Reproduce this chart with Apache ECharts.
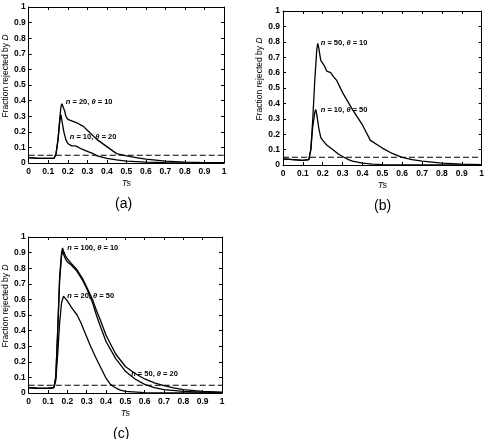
<!DOCTYPE html>
<html>
<head>
<meta charset="utf-8">
<script src="https://cdn.jsdelivr.net/npm/echarts@6/dist/echarts.min.js"></script>
<style>
  html, body { margin: 0; padding: 0; background: #fff; }
  #chart { width: 487px; height: 439px; }
</style>
</head>
<body>
<div id="chart"></div>
<script>
const alphaLevel = 0.05

// panel (a)
const aX1 = [0, 0.05, 0.1, 0.13, 0.14, 0.15, 0.16, 0.165, 0.17, 0.173, 0.178, 0.185, 0.19, 0.2, 0.22, 0.25, 0.28, 0.3, 0.35, 0.4, 0.45, 0.5, 0.55, 0.6, 0.7, 0.8, 0.9, 1]
const aY1 = [0.035, 0.03, 0.03, 0.03, 0.06, 0.15, 0.3, 0.36, 0.38, 0.37, 0.39, 0.33, 0.3, 0.28, 0.27, 0.255, 0.235, 0.21, 0.15, 0.105, 0.06, 0.045, 0.035, 0.025, 0.012, 0.006, 0.003, 0.002]
const aX2 = [0, 0.05, 0.1, 0.13, 0.14, 0.15, 0.16, 0.165, 0.17, 0.18, 0.19, 0.2, 0.21, 0.22, 0.24, 0.25, 0.27, 0.3, 0.33, 0.35, 0.4, 0.45, 0.5, 0.6, 0.7, 1]
const aY2 = [0.035, 0.03, 0.03, 0.03, 0.06, 0.15, 0.28, 0.31, 0.27, 0.2, 0.15, 0.125, 0.115, 0.11, 0.11, 0.1, 0.09, 0.075, 0.06, 0.045, 0.03, 0.02, 0.012, 0.005, 0.002, 0.001]

// panel (b)
const bX1 = [0, 0.05, 0.1, 0.13, 0.14, 0.15, 0.16, 0.17, 0.175, 0.18, 0.19, 0.2, 0.21, 0.22, 0.23, 0.24, 0.25, 0.27, 0.3, 0.35, 0.4, 0.44, 0.5, 0.55, 0.6, 0.65, 0.7, 0.8, 0.9, 1]
const bY1 = [0.04, 0.035, 0.03, 0.035, 0.1, 0.3, 0.55, 0.75, 0.79, 0.76, 0.68, 0.66, 0.64, 0.61, 0.6, 0.6, 0.58, 0.55, 0.47, 0.36, 0.26, 0.16, 0.11, 0.075, 0.05, 0.035, 0.025, 0.012, 0.006, 0.003]
const bX2 = [0, 0.05, 0.1, 0.13, 0.14, 0.15, 0.16, 0.165, 0.17, 0.18, 0.19, 0.2, 0.22, 0.25, 0.28, 0.3, 0.33, 0.35, 0.4, 0.45, 0.5, 0.6, 1]
const bY2 = [0.04, 0.035, 0.03, 0.035, 0.1, 0.25, 0.34, 0.36, 0.33, 0.24, 0.18, 0.16, 0.13, 0.1, 0.07, 0.055, 0.035, 0.025, 0.012, 0.006, 0.003, 0.001, 0]

// panel (c)
const cX1 = [0, 0.05, 0.1, 0.13, 0.14, 0.15, 0.16, 0.17, 0.175, 0.18, 0.19, 0.2, 0.22, 0.25, 0.28, 0.3, 0.33, 0.35, 0.37, 0.4, 0.45, 0.5, 0.55, 0.6, 0.65, 0.7, 0.75, 0.8, 0.9, 1]
const cY1 = [0.035, 0.03, 0.03, 0.035, 0.1, 0.4, 0.75, 0.9, 0.93, 0.91, 0.88, 0.86, 0.83, 0.79, 0.73, 0.68, 0.6, 0.53, 0.47, 0.37, 0.25, 0.17, 0.125, 0.09, 0.065, 0.048, 0.033, 0.022, 0.01, 0.005]
const cX2 = [0, 0.05, 0.1, 0.13, 0.14, 0.15, 0.16, 0.17, 0.175, 0.18, 0.19, 0.2, 0.22, 0.25, 0.28, 0.3, 0.33, 0.35, 0.37, 0.4, 0.45, 0.5, 0.55, 0.6, 0.65, 0.7, 0.8, 0.9, 1]
const cY2 = [0.035, 0.03, 0.03, 0.035, 0.1, 0.4, 0.72, 0.88, 0.91, 0.89, 0.86, 0.84, 0.82, 0.78, 0.72, 0.67, 0.58, 0.5, 0.43, 0.33, 0.22, 0.14, 0.09, 0.055, 0.035, 0.022, 0.01, 0.005, 0.002]
const cX3 = [0, 0.05, 0.1, 0.13, 0.14, 0.15, 0.16, 0.17, 0.18, 0.185, 0.2, 0.22, 0.25, 0.27, 0.29, 0.32, 0.35, 0.37, 0.4, 0.42, 0.44, 0.47, 0.5, 0.6, 1]
const cY3 = [0.035, 0.03, 0.03, 0.035, 0.08, 0.25, 0.45, 0.58, 0.62, 0.63, 0.59, 0.55, 0.5, 0.45, 0.39, 0.3, 0.22, 0.17, 0.095, 0.06, 0.04, 0.02, 0.01, 0.003, 0]

// curve annotations: [n, theta, Ts, fraction] where the text starts
const aNotes = [[20, 10, 0.19, 0.39], [10, 20, 0.21, 0.17]]
const bNotes = [[50, 10, 0.19, 0.79], [10, 50, 0.19, 0.36]]
const cNotes = [[100, 10, 0.2, 0.93], [20, 50, 0.2, 0.62], [50, 20, 0.53, 0.12]]

const panelNames = ['(a)', '(b)', '(c)']

const font = 'Liberation Sans, Arial, sans-serif'

function pairs (xs, ys) {
  return xs.map((x, i) => [x, ys[i]])
}

const grids = [
  { left: 24, top: 7, width: 200, height: 156 },
  { left: 283, top: 11, width: 200, height: 154 },
  { left: 22, top: 237, width: 200, height: 156 }
]

const xAxes = []
const yAxes = []
grids.forEach((g, i) => {
  const line = { show: true, onZero: false, lineStyle: { color: '#000', width: 1 } }
  const tick = { show: true, inside: true, length: 3, lineStyle: { color: '#000' } }
  xAxes.push({
    type: 'value', gridIndex: i, min: 0, max: 1, interval: 0.1,
    axisLine: line, axisTick: tick, splitLine: { show: false },
    axisLabel: { color: '#000', fontSize: 8.5, fontWeight: 'bold', fontFamily: font, margin: 4 },
    name: 'Ts', nameLocation: 'middle', nameGap: 16,
    nameTextStyle: { color: '#000', fontSize: 9, fontStyle: 'italic', fontFamily: font }
  })
  xAxes.push({
    type: 'value', gridIndex: i, min: 0, max: 1, interval: 0.1, position: 'top',
    axisLine: line, axisTick: tick, splitLine: { show: false }, axisLabel: { show: false }
  })
  yAxes.push({
    type: 'value', gridIndex: i, min: 0, max: 1, interval: 0.1,
    axisLine: line, axisTick: tick, splitLine: { show: false },
    axisLabel: { color: '#000', fontSize: 8.5, fontWeight: 'bold', fontFamily: font, margin: 3 },
    name: 'Fraction rejected by {i|D}', nameLocation: 'middle', nameGap: 18, nameRotate: 90,
    nameTextStyle: {
      color: '#000', fontSize: 8.5, fontFamily: font, padding: [0, 0, 0, 18],
      rich: { i: { fontStyle: 'italic', fontSize: 8.5, fontFamily: font, color: '#000' } }
    }
  })
  yAxes.push({
    type: 'value', gridIndex: i, min: 0, max: 1, interval: 0.1, position: 'right',
    axisLine: line, axisTick: tick, splitLine: { show: false }, axisLabel: { show: false }
  })
})

function notePoints (notes) {
  return notes.map(n => ({
    coord: [n[2], n[3]],
    value: n[0],
    label: {
      show: true, position: 'right', distance: 0,
      formatter: '{i|n} = ' + n[0] + ', {i|θ} = ' + n[1],
      color: '#000', fontSize: 7.5, fontWeight: 'bold', fontFamily: font,
      rich: { i: { fontStyle: 'italic', fontSize: 7.5, fontFamily: font, color: '#000' } }
    }
  }))
}

function curve (gi, xs, ys, notes) {
  const s = {
    type: 'line', xAxisIndex: gi * 2, yAxisIndex: gi * 2,
    data: pairs(xs, ys), showSymbol: false, symbol: 'none',
    lineStyle: { color: '#000', width: 1.3 }, silent: true, z: 3
  }
  if (notes) {
    s.markPoint = { symbol: 'circle', symbolSize: 0, silent: true, data: notePoints(notes) }
  }
  return s
}

function dashed (gi) {
  return {
    type: 'line', xAxisIndex: gi * 2, yAxisIndex: gi * 2,
    data: [[0, alphaLevel], [1, alphaLevel]], symbol: 'none',
    lineStyle: { color: '#000', width: 1.1, type: [6, 3] }, silent: true, z: 2
  }
}

const series = [
  curve(0, aX1, aY1, aNotes),
  curve(0, aX2, aY2),
  dashed(0),
  curve(1, bX1, bY1, bNotes),
  curve(1, bX2, bY2),
  dashed(1),
  curve(2, cX1, cY1, cNotes),
  curve(2, cX2, cY2),
  curve(2, cX3, cY3),
  dashed(2)
]

const option = {
  animation: false,
  textStyle: { fontFamily: font },
  grid: grids,
  xAxis: xAxes,
  yAxis: yAxes,
  series: series,
  graphic: grids.map((g, i) => ({
    type: 'text',
    left: g.left + g.width / 2 - 9,
    top: g.top + g.height + 34,
    style: { text: panelNames[i], fontSize: 14, fontFamily: font, fill: '#000' }
  }))
}

const chart = echarts.init(document.getElementById('chart'))
chart.setOption(option)
window.addEventListener('resize', () => chart.resize())
</script>
</body>
</html>
